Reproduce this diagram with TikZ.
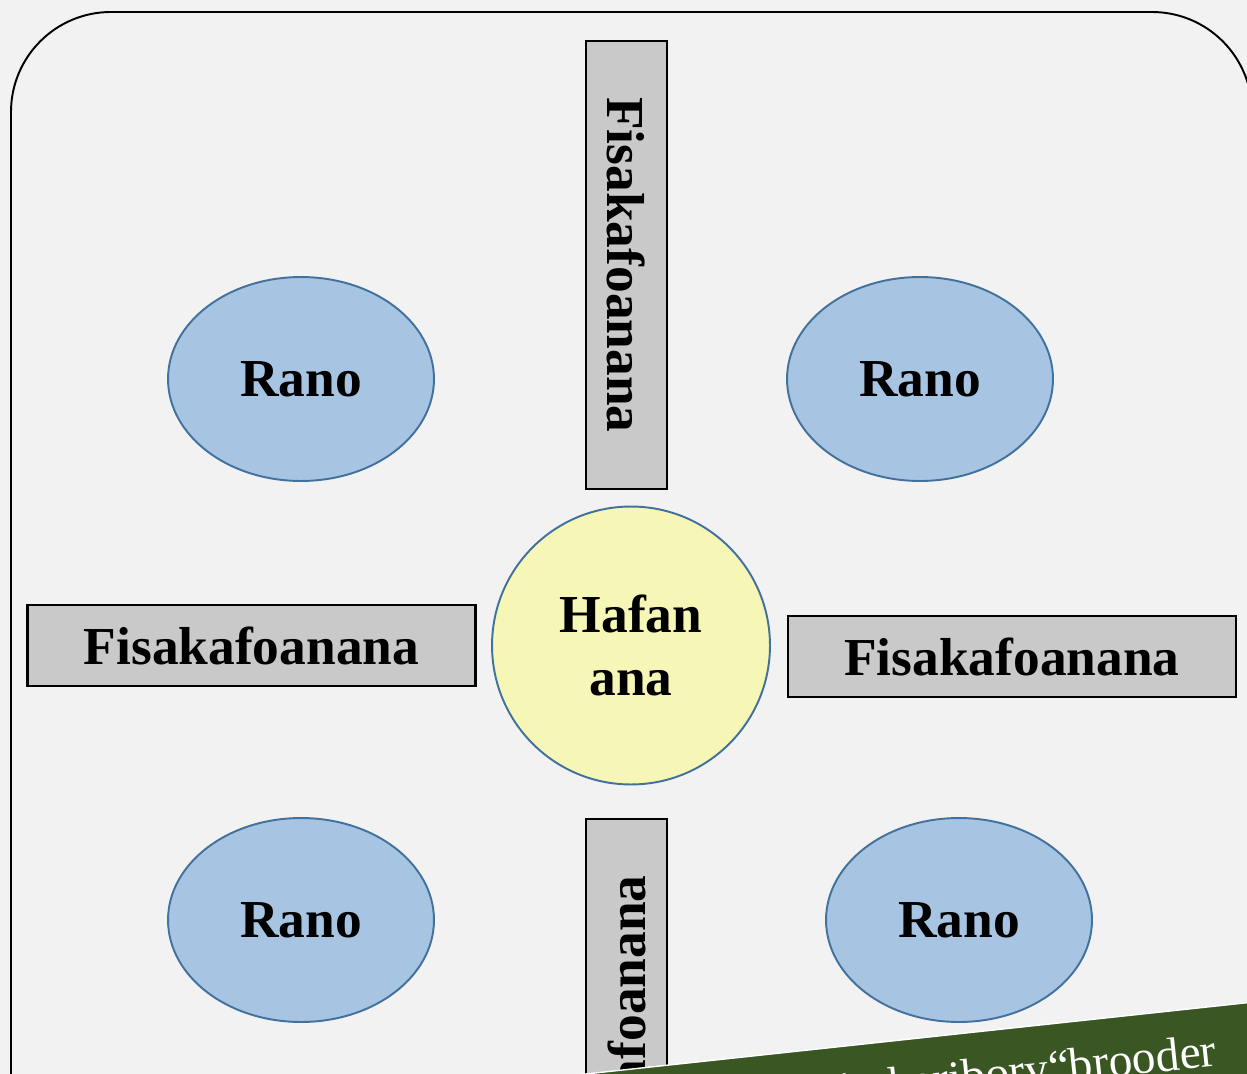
\documentclass[tikz,border=0pt]{standalone}
\usepackage{fontspec}
\setmainfont{Liberation Serif}
\usepackage{tikz}
\usetikzlibrary{shapes.geometric,% ellipses for the water
positioning}
\definecolor{bgcol}{HTML}{F2F2F2}
\definecolor{pathcol}{HTML}{C9C9C9}
\definecolor{watercol}{HTML}{A7C5E3}
\definecolor{centercol}{HTML}{F6F7B6}
\definecolor{edgecol}{HTML}{41719C}
\definecolor{bannercol}{HTML}{3A5622}
\tikzset{every node/.style={font=\fontsize{30.4}{36}\selectfont\bfseries},
  pathbox/.style={draw=black,line width=1.2pt,fill=pathcol,minimum width=8.96cm,minimum height=1.62cm,inner sep=0pt},
  waterpond/.style={ellipse,draw=edgecol,line width=1.1pt,fill=watercol,minimum width=5.32cm,minimum height=4.08cm,inner sep=0pt},
  hub/.style={circle,draw=edgecol,line width=1.1pt,fill=centercol,minimum size=5.56cm,inner sep=0pt,align=center},
  bannertext/.style={font=\fontsize{27}{30}\selectfont,text=white,inner sep=0pt}}

\begin{document}
\begin{tikzpicture}[x=0.02cm,y=-0.02cm]
  \useasboundingbox (0,0) rectangle (1247,1074);
  \fill[bgcol] (0,0) rectangle (1247,1074);
  \begin{scope}
    \clip (0,0) rectangle (1247,1074);
    \draw[line width=1.1pt,rounded corners=2cm] (11,12) rectangle (1252,1300);
    % the paths
    \node[pathbox,rotate=-90] (pathN) at (626.5,265) {Fisakafoanana};
    \node[pathbox,rotate=90] (pathS) at (626.5,1043) {Fisakafoanana};
    \node[pathbox] (pathW) at (251.5,645.5) {Fisakafoanana};
    \node[pathbox] (pathE) at (1012,656.5) {Fisakafoanana};
    % the house in the middle
    \node[hub] (house) at (631,645.5) {Hafan\\ana};
    % the ponds
    \node[waterpond] (pondNW) at (301,379) {Rano};
    \node[waterpond] (pondNE) at (920,379) {Rano};
    \node[waterpond] (pondSW) at (301,920) {Rano};
    \node[waterpond] (pondSE) at (959,920) {Rano};
    % banner
    \draw[white,line width=0.8pt,fill=bannercol] (400,1094) -- (1300,997) -- (1300,1300) -- (400,1300) -- cycle;
    \node[bannertext,rotate=6,anchor=base east] (banner) at (1218,1066) {in haribory“brooder};
  \end{scope}
\end{tikzpicture}
\end{document}
